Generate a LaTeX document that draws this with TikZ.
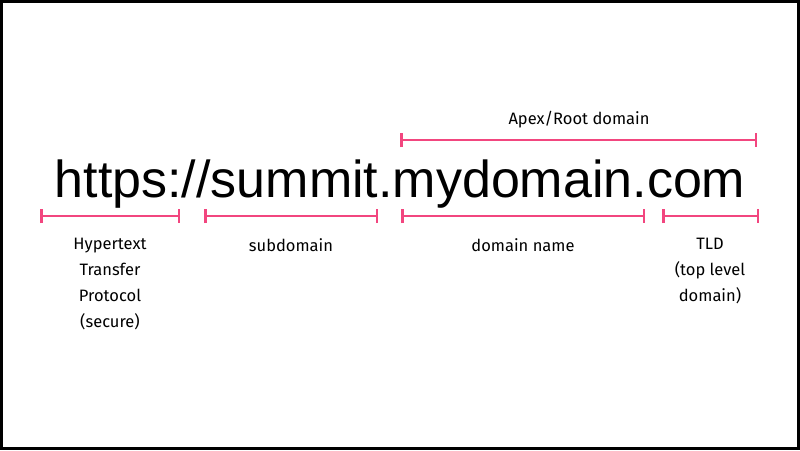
\documentclass[tikz,border=0pt]{standalone}
\usepackage{fontspec}
\setmainfont{Liberation Sans}
\newfontfamily\labelfont{Fira Sans}
\usetikzlibrary{arrows.meta,positioning}
\definecolor{urlpink}{HTML}{F2467F}
\tikzset{
  span/.style={draw=urlpink, line width=2.5pt, {Bar[width=14pt]}-{Bar[width=14pt]}},
  partlabel/.style={font=\labelfont\fontsize{16.5}{26}\selectfont, align=center, anchor=north, inner sep=0pt}
}
\begin{document}
\begin{tikzpicture}[x=1pt,y=-1pt]
  % frame
  \draw[line width=3pt, fill=white] (1.5,1.5) rectangle (798.5,448.5);
  \useasboundingbox (0,0) rectangle (800,450);

  % the address itself
  \node[anchor=base, inner sep=0pt, font=\fontsize{52}{52}\selectfont] (url) at (400,197) {https://summit.mydomain.com};

  % brackets
  \coordinate (apexL) at (400,140);  \coordinate (apexR) at (757,140);
  \coordinate (protL) at (40,216);   \coordinate (protR) at (180,216);
  \coordinate (subL) at (204,216);   \coordinate (subR) at (378,216);
  \coordinate (domL) at (401,216);   \coordinate (domR) at (645,216);
  \coordinate (tldL) at (662,216);   \coordinate (tldR) at (759,216);
  \draw[span] (apexL) -- (apexR);
  \draw[span] (protL) -- (protR);
  \draw[span] (subL) -- (subR);
  \draw[span] (domL) -- (domR);
  \draw[span] (tldL) -- (tldR);

  % labels
  \node[partlabel] (apex) at (579,111) {Apex/Root domain};
  \node[partlabel] (prot) at (110,238) {Hypertext\\Transfer\\Protocol\\(secure)};
  \node[partlabel] (sub) at (291,238) {subdomain};
  \node[partlabel] (dom) at (523,238) {domain name};
  \node[partlabel] (tld) at (710,238) {TLD\\(top level\\domain)};
\end{tikzpicture}
\end{document}
